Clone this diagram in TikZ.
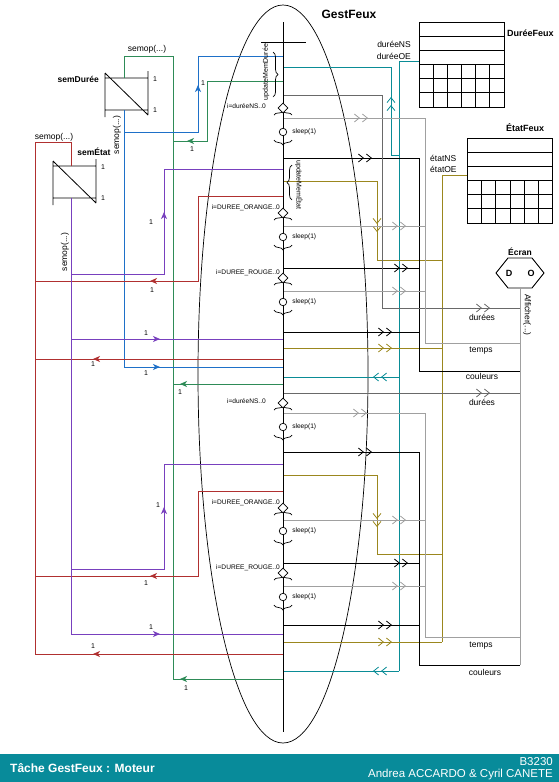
\documentclass[tikz,border=0pt]{standalone}
\usepackage{fontspec}
\setmainfont{Liberation Sans}
\usepackage{tikz}
\usetikzlibrary{arrows.meta,calc,positioning,shapes.geometric,decorations.markings,decorations.pathreplacing}

\definecolor{cVert}{RGB}{46,139,87}
\definecolor{cBleu}{RGB}{30,112,200}
\definecolor{cRouge}{RGB}{176,48,48}
\definecolor{cMauve}{RGB}{120,64,190}
\definecolor{cSarcelle}{RGB}{10,140,150}
\definecolor{cOlive}{RGB}{155,135,30}
\definecolor{cGrisF}{RGB}{105,105,105}
\definecolor{cGrisC}{RGB}{160,160,160}
\definecolor{cBandeau}{RGB}{8,139,154}

\tikzstyle{fil} = [line width=0.8pt]
\tikzstyle{fvert} = [fil, color=cVert]
\tikzstyle{fbleu} = [fil, color=cBleu]
\tikzstyle{frouge} = [fil, color=cRouge]
\tikzstyle{fmauve} = [fil, color=cMauve]
\tikzstyle{fsarcelle} = [fil, color=cSarcelle]
\tikzstyle{folive} = [fil, color=cOlive]
\tikzstyle{fnoir} = [fil, color=black]
\tikzstyle{fgrisf} = [fil, color=cGrisF]
\tikzstyle{fgrisc} = [fil, color=cGrisC]
\tikzstyle{table} = [rectangle, draw=black, line width=0.8pt, minimum width=85pt, minimum height=85pt, inner sep=0pt, outer sep=0pt]
\tikzstyle{test} = [diamond, draw=black, fill=white, line width=0.7pt, minimum size=10pt, inner sep=0pt]
\tikzstyle{attente} = [circle, draw=black, fill=white, line width=0.7pt, minimum size=7.5pt, inner sep=0pt]
\tikzstyle{un} = [font=\fontsize{7}{8}\selectfont, inner sep=0pt]
\tikzstyle{texte} = [font=\fontsize{8.5}{10}\selectfont, inner sep=0pt]
\tikzstyle{gras} = [font=\bfseries\fontsize{8.5}{10}\selectfont, inner sep=0pt]
\tikzstyle{boucle} = [font=\fontsize{6.6}{7}\selectfont, inner sep=0pt, anchor=east]
\tikzstyle{dodo} = [font=\fontsize{6.6}{7}\selectfont, inner sep=0pt]
\tikzstyle{memo} = [font=\fontsize{7}{8}\selectfont, inner sep=0pt]
\tikzset{
  fleche/.style={postaction={decorate,decoration={markings,mark=at position #1 with {\arrow{Stealth[length=7pt,width=6pt,inset=2pt]}}}}},
  dfleche/.style={postaction={decorate,decoration={markings,mark=at position #1 with {\arrow{Straight Barb[length=5pt,width=8pt,sep=2pt]Straight Barb[length=5pt,width=8pt]}}}}},
  accolade/.style={decorate,decoration={brace,amplitude=#1},line width=0.7pt}
}

\begin{document}
\begin{tikzpicture}[x=1pt, y=-1pt]
\useasboundingbox (0,0) rectangle (559,782);

% la tache
\draw[line width=0.7pt] (283,374) ellipse [x radius=85pt, y radius=369pt];
\node[font=\bfseries\fontsize{12}{13}\selectfont, inner sep=0pt] (gestfeux) at (349,14) {GestFeux};

% points d'attache sur l'axe
\foreach \y in {56,67,81,95,118,158,169,181,196,226,268,291,332,339,348,359,367,377,384,393,413,452,464,475,491,520,563,586,625,634,642,654,671,679}
  \coordinate (s\y) at (283,\y);
\coordinate (haut) at (283,22);
\coordinate (bas) at (283,732);
\coordinate (croixG) at (261,42);
\coordinate (croixD) at (306,42);

% semaphores
\foreach \x/\y in {105/78, 53/166} {
  \begin{scope}[shift={(\x,\y)}]
    \draw[fil] (0,-5) -- (0,39) (43,-7) -- (43,37) (0,0) -- (43,0) (0,32) -- (43,32) (0,-5) -- (43,37);
  \end{scope}
}
\coordinate (sdHaut) at (124,78);
\coordinate (sdBas) at (124,110);
\coordinate (seHaut) at (71,166);
\coordinate (seBas) at (71,198);
\node[gras, anchor=east] (semduree) at (99,79) {semDurée};
\node[gras] (semetat) at (94,152) {semÉtat};
\node[un] (sd1) at (155,79) {1};
\node[un] (sd2) at (155,110) {1};
\node[un] (se1) at (103,167) {1};
\node[un] (se2) at (103,198) {1};
\node[texte] (opv) at (147,49) {semop(...)};
\node[texte] (opr) at (54,137) {semop(...)};
\node[texte, rotate=90] (opb) at (117,135) {semop(...)};
\node[texte, rotate=90] (opm) at (65,252) {semop(...)};

% tables
\node[table] (dureefeux) at (461.5,64.5) {};
\node[table] (etatfeux) at (510,180.5) {};
\foreach \t in {dureefeux, etatfeux} {
  \foreach \i in {1,...,5}
    \draw[line width=0.8pt] ($(\t.north west)!\i/6!(\t.south west)$) -- ($(\t.north east)!\i/6!(\t.south east)$);
  \foreach \j in {1,...,5}
    \draw[line width=0.8pt] ($(\t.west)!\j/6!(\t.east)$) -- ($(\t.south west)!\j/6!(\t.south east)$);
}
\node[font=\bfseries\fontsize{9}{10}\selectfont, inner sep=0pt, anchor=west] (tdf) at (507,33) {DuréeFeux};
\node[font=\bfseries\fontsize{9}{10}\selectfont, inner sep=0pt] (tef) at (525,128) {ÉtatFeux};
\node[texte, anchor=east] (dns) at (411,44) {duréeNS};
\node[texte, anchor=east] (doe) at (411,56) {duréeOE};
\node[texte, anchor=west] (ens) at (430,158) {étatNS};
\node[texte, anchor=west] (eoe) at (430,169) {étatOE};
\coordinate (dfSortie) at (419,61);
\coordinate (efSortie) at (467,175);

% ecran
\coordinate (ecran) at (520,273);
\coordinate (ecranBas) at (520,288);
\draw[line width=0.9pt] (496,273) -- (508,258) -- (532,258) -- (544,273) -- (532,288) -- (508,288) -- cycle;
\node[gras] (tecran) at (520,252) {Écran};
\node[font=\bfseries\fontsize{9}{10}\selectfont, inner sep=0pt] (ecD) at (509,273) {D};
\node[font=\bfseries\fontsize{9}{10}\selectfont, inner sep=0pt] (ecO) at (531,273) {O};
\node[texte, rotate=-90] (afficher) at (527,315) {Afficher(...)};

% points des bus
\foreach \y in {56,141,384,679} \coordinate (v\y) at (173,\y);
\coordinate (b132) at (124,132);
\foreach \y in {142,281,359,576,654} \coordinate (r\y) at (35,\y);
\foreach \y in {274,339,569} \coordinate (p\y) at (71,\y);
\foreach \y in {155,377,671} \coordinate (t\y) at (399,\y);
\foreach \y in {260,348,554,642} \coordinate (o\y) at (442,\y);
\foreach \y in {268,332,563,625} \coordinate (k\y) at (419,\y);
\foreach \y in {226,291,520,586} \coordinate (l\y) at (425,\y);
\foreach \y in {308,343,371,393,637,665} \coordinate (a\y) at (520,\y);

% semDuree : P (vert)
\draw[fvert] (sdHaut) |- (v56) -- (v679);
\draw[fvert, fleche=156pt] (s81) -| (207,141) -- (v141);
\draw[fvert, fleche=103pt] (s384) -- (v384);
\draw[fvert, fleche=103pt] (s679) -- (v679);
% semDuree : V (bleu)
\draw[fbleu, fleche=293pt] (sdBas) |- (s367);
\draw[fbleu, fleche=121pt] (b132) -| (198,56) -- (s56);
% semEtat : P (rouge)
\draw[frouge] (seHaut) |- (r142) -- (r654);
\draw[frouge, fleche=218pt] (s196) -| (198,281) -- (r281);
\draw[frouge, fleche=190pt] (s359) -- (r359);
\draw[frouge, fleche=218pt] (s491) -| (198,576) -- (r576);
\draw[frouge, fleche=190pt] (s654) -- (r654);
% semEtat : V (mauve)
\draw[fmauve, fleche=525pt] (seBas) |- (s634);
\draw[fmauve, fleche=155pt] (p274) -| (164,169) -- (s169);
\draw[fmauve, fleche=89pt] (p339) -- (s339);
\draw[fmauve, fleche=155pt] (p569) -| (164,464) -- (s464);

\node[un] (g1) at (192,149) {1};
\node[un] (g2) at (180,392) {1};
\node[un] (g3) at (186,688) {1};
\node[un] (b1) at (203,83) {1};
\node[un] (b2) at (146,373) {1};
\node[un] (r1) at (152,290) {1};
\node[un] (r2) at (93,364) {1};
\node[un] (r3) at (146,583) {1};
\node[un] (r4) at (93,646) {1};
\node[un] (m1) at (151,222) {1};
\node[un] (m2) at (146,333) {1};
\node[un] (m3) at (158,505) {1};
\node[un] (m4) at (151,627) {1};

% DureeFeux (sarcelle)
\draw[fsarcelle] (dfSortie) -| (t671);
\draw[fsarcelle, dfleche=66pt] (t155) -| (391,67) -- (s67);
\draw[fsarcelle, dfleche=26pt] (t377) -- (s377);
\draw[fsarcelle, dfleche=26pt] (t671) -- (s671);
% EtatFeux (olive)
\draw[folive] (efSortie) -| (o642);
\draw[folive, dfleche=145pt] (s181) -| (377,260) -- (o260);
\draw[folive, dfleche=109pt] (s348) -- (o348);
\draw[folive, dfleche=146pt] (s475) -| (377,554) -- (o554);
\draw[folive, dfleche=109pt] (s642) -- (o642);

% couleurs
\draw[fnoir, dfleche=89pt] (s158) -| (419,371) -- (a371);
\draw[fnoir, dfleche=125pt] (s268) -- (k268);
\draw[fnoir, dfleche=109pt] (s332) -- (k332);
\draw[fnoir, dfleche=89pt] (s452) -| (419,665) -- (a665);
\draw[fnoir, dfleche=125pt] (s563) -- (k563);
\draw[fnoir, dfleche=109pt] (s625) -- (k625);
% durees
\draw[fgrisf, dfleche=420pt] (s95) -| (382,308) -- (a308);
\draw[fgrisf, dfleche=207pt] (s393) -- (a393);
% temps
\draw[fgrisc, dfleche=85pt] (s118) -| (425,343) -- (a343);
\draw[fgrisc, dfleche=123pt] (s226) -- (l226);
\draw[fgrisc, dfleche=123pt] (s291) -- (l291);
\draw[fgrisc, dfleche=84pt] (s413) -| (425,637) -- (a637);
\draw[fgrisc, dfleche=123pt] (s520) -- (l520);
\draw[fgrisc, dfleche=123pt] (s586) -- (l586);
% affichage
\draw[fgrisc] (ecranBas) -- (a665);

\node[texte] (lb1) at (482,317) {durées};
\node[texte] (lb2) at (481,351) {temps};
\node[texte] (lb3) at (482,376) {couleurs};
\node[texte] (lb4) at (482,402) {durées};
\node[texte] (lb5) at (481,646) {temps};
\node[texte] (lb6) at (485,672) {couleurs};

% axe du moteur
\draw[line width=0.9pt] (haut) -- (bas);
\draw[line width=0.9pt] (croixG) -- (croixD);
\draw[accolade=5pt] (273,52) -- (273,97);
\node[memo, rotate=90] (umd) at (266,72) {updateMemDurée};
\draw[accolade=5pt] (292,200) -- (292,165);
\node[memo, rotate=-90] (ume) at (299,185) {updateMemÉtat};

\foreach \d/\c/\f in {108/132/143, 213/237/248, 278/302/313, 403/427/438, 508/531/543, 573/597/608} {
  \draw[accolade=4pt] (274,{\d+7}) -- (292,{\d+7});
  \draw[accolade=5pt] (292,{\f-3}) -- (274,{\f-3});
  \node[test] (d\d) at (283,\d) {};
  \node[attente] (c\c) at (283,\c) {};
  \node[dodo, right=5pt of c\c] (z\c) {sleep(1)};
}
\node[boucle] (i108) at (266,106) {i=duréeNS..0};
\node[boucle] (i213) at (280,208) {i=DUREE\_ORANGE..0};
\node[boucle] (i278) at (280,273) {i=DUREE\_ROUGE..0};
\node[boucle] (i403) at (266,401) {i=duréeNS..0};
\node[boucle] (i508) at (280,503) {i=DUREE\_ORANGE..0};
\node[boucle] (i573) at (280,568) {i=DUREE\_ROUGE..0};

% bandeau
\fill[cBandeau] (0,754) rectangle (559,782);
\node[font=\bfseries\fontsize{12}{14}\selectfont, text=white, inner sep=0pt, anchor=west] (titre) at (10,768) {Tâche GestFeux : Moteur};
\node[font=\fontsize{11.5}{13}\selectfont, text=white, inner sep=0pt, anchor=east] (code) at (553,762) {B3230};
\node[font=\fontsize{11.5}{13}\selectfont, text=white, inner sep=0pt, anchor=east] (auteurs) at (553,775) {Andrea ACCARDO \& Cyril CANETE};
\end{tikzpicture}
\end{document}
